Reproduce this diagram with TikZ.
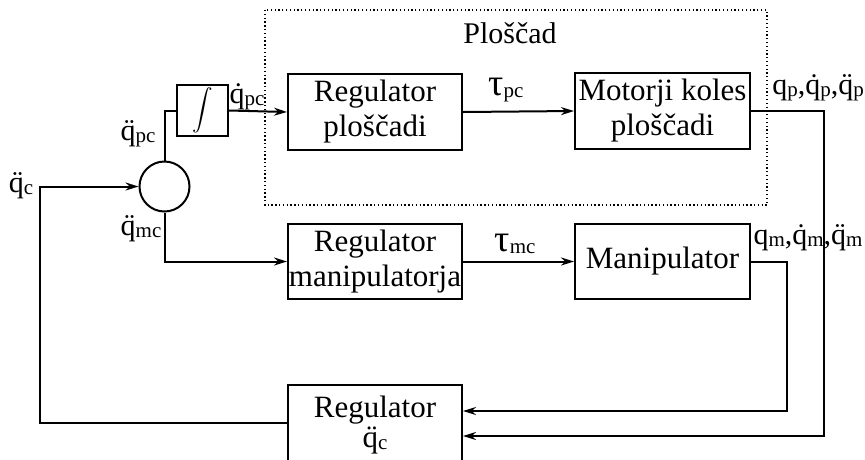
\documentclass[tikz,border=0pt]{standalone}
\usepackage{amsmath}
\usepackage{fontspec}
\setmainfont{Liberation Serif}
\usetikzlibrary{arrows.meta}
\newcommand\sbx[1]{\raisebox{-2pt}{\fontsize{21}{21}\selectfont #1}}
\newcommand\tauu{{\fontsize{38}{38}\selectfont τ}}
\begin{document}
\begin{tikzpicture}[x=1pt,y=-1pt,
  blk/.style={draw,line width=2pt,inner sep=0pt,minimum width=174pt,minimum height=76pt,align=center,font=\fontsize{31}{35}\selectfont},
  lbl/.style={inner sep=0pt,font=\fontsize{30}{34}\selectfont},
  wire/.style={line width=2pt},
  arr/.style={line width=2pt,-{Stealth[length=13pt,width=8pt]}}]
\useasboundingbox (0,0) rectangle (865,459);
% dotted platform frame
\draw[line width=1.3pt,dash pattern=on 1.3pt off 2.5pt] (265,10) rectangle (767,205);
\node[lbl] (plat) at (510,33) {Ploščad};
% blocks
\node[blk] (b1) at (375,112) {Regulator\\ploščadi};
\node[blk,minimum width=175pt] (b2) at (662.5,111) {Motorji koles\\ploščadi};
\node[blk,minimum height=75pt] (b3) at (375,261.5) {Regulator\\manipulatorja};
\node[blk,minimum width=175pt,minimum height=75pt] (b4) at (662.5,261.5) {Manipulator};
\node[blk,minimum height=76pt] (b5) at (375,423) {};
\node[lbl,font=\fontsize{31}{30}\selectfont,align=center] (b5t) at (375,425) {Regulator\\\"q\sbx{c}};
\node[draw,line width=2pt,circle,minimum size=50pt,inner sep=0pt] (c) at (164.5,186.5) {};
\node[draw,line width=2pt,minimum size=51pt,inner sep=0pt] (int) at (202.5,110.5) {\scalebox{2.05}{$\displaystyle\int$}};
% coordinates
\coordinate (r1) at (824,436);
\coordinate (in1) at (463,436);
\coordinate (r2) at (787,411);
\coordinate (in2) at (463,411);
\coordinate (lc) at (40,186.5);
% connectors
\draw[wire] (c.north) |- (int.west);
\draw[arr] (int.east) -- (b1.west);
\draw[arr] (b1.east) -- (b2.west);
\draw[arr] (b2.east) -| (r1) -- (in1);
\draw[arr] (b3.east) -- (b4.west);
\draw[arr] (b4.east) -| (r2) -- (in2);
\draw[arr] (c.south) |- (b3.west);
\draw[arr] (b5.west) -| (lc) -- (c.west);
% labels
\node[lbl] (l1) at (21,186) {\"q\sbx{c}};
\node[lbl] (l2) at (138,134) {\"q\sbx{pc}};
\node[lbl] (l3) at (247,97) {\.q\sbx{pc}};
\node[lbl] (l4) at (141,229) {\"q\sbx{mc}};
\node[lbl] (l5) at (506,90) {\tauu\sbx{pc}};
\node[lbl] (l6) at (515,244) {\tauu\sbx{mc}};
\node[lbl] (l7) at (818,88) {q\sbx{p},\.q\sbx{p},\"q\sbx{p}};
\node[lbl] (l8) at (808,238) {q\sbx{m},\.q\sbx{m},\"q\sbx{m}};
\end{tikzpicture}
\end{document}
